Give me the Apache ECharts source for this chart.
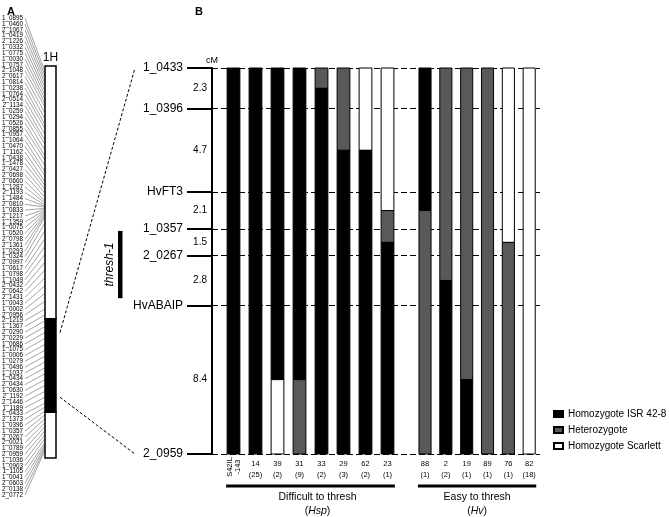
<!DOCTYPE html>
<html>
<head>
<meta charset="utf-8">
<script src="https://cdn.jsdelivr.net/npm/echarts@6/dist/echarts.min.js"></script>
<style>
html, body { margin: 0; padding: 0; background: #fff; }
#chart { width: 669px; height: 517px; }
</style>
</head>
<body>
<div id="chart"></div>
<script>
const FONT = '"Liberation Sans", Arial, Helvetica, sans-serif';

// panel A: markers of the 1H map, top to bottom, and where each lands on the chromosome (0 = top, 100 = bottom)
const mapMarkers = [
  '1_0895', '1_0460', '2_1067', '1_0419', '2_1226', '1_0332', '1_0775', '1_0030', '1_0757', '2_1048',
  '2_0617', '1_0814', '1_0238', '1_0764', '2_0514', '2_1134', '1_0259', '1_0294', '1_0526', '2_0855',
  '1_0957', '1_1064', '1_0470', '1_1162', '1_0438', '1_1478', '2_0427', '2_0698', '2_0660', '1_1287',
  '2_1193', '1_1484', '2_0810', '1_0833', '2_1217', '1_1359', '1_0075', '1_0520', '2_0798', '2_1361',
  '1_0293', '1_0324', '2_0997', '1_0617', '1_0798', '1_1049', '2_0432', '2_0642', '2_1431', '1_0043',
  '1_0002', '2_0956', '2_1219', '1_1367', '2_0290', '2_0229', '1_0686', '1_1075', '1_0006', '1_0279',
  '1_0496', '1_1037', '1_0434', '2_0434', '1_0630', '2_1192', '2_1446', '1_1189', '1_0433', '2_1373',
  '1_0396', '1_0357', '2_0267', '2_0021', '1_0789', '2_0959', '1_1036', '1_0903', '1_1105', '1_0041',
  '2_0603', '2_0138', '2_0772'
];
const mapPositions = [
  1.5, 2.5, 3.5, 4.5, 5.5, 6.5, 7.5, 8.5, 9.5, 10.5,
  12, 13.5, 15, 16, 17.5, 19, 20, 21.5, 23, 24, 25.5, 27, 28, 29.5, 30.5, 31.5, 32.5, 33.5,
  34.5, 35, 35.5, 35.8, 36, 36.3, 36.5, 36.8, 37, 37.3, 37.6, 38, 38.5,
  40, 42, 44, 46, 48, 50, 52, 54, 56, 58, 60, 62, 63.5, 65, 66.5, 68,
  69.5, 71, 72.5, 74, 75.5, 77, 78.5, 80, 81.5, 83, 84.5, 86, 87, 88,
  89, 90, 91, 92, 93, 94, 95, 96, 96.5, 97, 97.5, 98
];
// chromosome 1H segments: [from, to, filled]
const chromSegments = [[0, 64.5, 0], [64.5, 88.3, 1], [88.3, 100, 0]];
const zoomWindow = [68, 84.5];

// panel B: fine map
const markerNames = ['1_0433', '1_0396', 'HvFT3', '1_0357', '2_0267', 'HvABAIP', '2_0959'];
const intervalsCM = [2.3, 4.7, 2.1, 1.5, 2.8, 8.4];
const thresh1 = [9.2, 13.0];

const lineNames = ['S42IL-143', '14', '39', '31', '33', '29', '62', '23', '88', '2', '19', '89', '76', '82'];
const lineCounts = [null, 25, 2, 9, 2, 3, 2, 1, 1, 2, 1, 1, 1, 18];
const groupNames = ['Difficult to thresh', 'Easy to thresh'];
const groupTags = ['Hsp', 'Hv'];
const groupSizes = [8, 6];

const states = ['Homozygote ISR 42-8', 'Heterozygote', 'Homozygote Scarlett'];
// genotype of each line along the map: [state, from cM, to cM]
const genotypes = [
  [[0, 0, 21.8]],
  [[0, 0, 21.8]],
  [[0, 0, 17.6], [2, 17.6, 21.8]],
  [[0, 0, 17.6], [1, 17.6, 21.8]],
  [[1, 0, 1.15], [0, 1.15, 21.8]],
  [[1, 0, 4.65], [0, 4.65, 21.8]],
  [[2, 0, 4.65], [0, 4.65, 21.8]],
  [[2, 0, 8.05], [1, 8.05, 9.85], [0, 9.85, 21.8]],
  [[0, 0, 8.05], [1, 8.05, 21.8]],
  [[1, 0, 12.0], [0, 12.0, 21.8]],
  [[1, 0, 17.6], [0, 17.6, 21.8]],
  [[1, 0, 21.8]],
  [[2, 0, 9.85], [1, 9.85, 21.8]],
  [[2, 0, 21.8]]
];

const stateColors = ['#000000', '#595959', '#ffffff'];

const markerPos = [0];
intervalsCM.forEach((d) => {
  markerPos.push(Math.round((markerPos[markerPos.length - 1] + d) * 100) / 100);
});
const total = markerPos[markerPos.length - 1];
const midPos = intervalsCM.map((d, i) => (markerPos[i] + markerPos[i + 1]) / 2);

function lookup(list, values, v) {
  const i = values.findIndex((p) => Math.abs(p - v) < 1e-6);
  return i < 0 ? '' : list[i];
}

function genoRender(offset, size) {
  return function (params, api) {
    const ci = api.value(0);
    const li = offset + ci;
    const cx = api.coord([ci, 0])[0];
    const bw = api.size([1, 0])[0] * 0.58;
    const children = genotypes[li].map(([s, a, b]) => {
      const y0 = api.coord([ci, a])[1];
      const y1 = api.coord([ci, b])[1];
      return {
        type: 'rect',
        shape: { x: cx - bw / 2, y: y0, width: bw, height: y1 - y0 },
        style: { fill: stateColors[s], stroke: '#000', lineWidth: 1 },
      };
    });
    const yb = api.coord([ci, total])[1];
    if (lineCounts[li] == null) {
      children.push({
        type: 'text',
        x: cx, y: yb + 13, rotation: Math.PI / 2,
        style: {
          text: lineNames[li].replace('-', '\n-'), fill: '#000', fontSize: 7.5, fontFamily: FONT,
          align: 'center', verticalAlign: 'middle', lineHeight: 8,
        },
      });
    } else {
      children.push({
        type: 'text', x: cx, y: yb + 10,
        style: { text: lineNames[li], fill: '#000', fontSize: 7.5, fontFamily: FONT, align: 'center', verticalAlign: 'middle' },
      });
      children.push({
        type: 'text', x: cx, y: yb + 21,
        style: { text: '(' + lineCounts[li] + ')', fill: '#000', fontSize: 7.5, fontFamily: FONT, align: 'center', verticalAlign: 'middle' },
      });
    }
    if (ci === 0) {
      const lastX = api.coord([size - 1, 0])[0];
      children.push({
        type: 'line',
        shape: { x1: cx - bw / 2 - 1, y1: yb + 32, x2: lastX + bw / 2 + 1, y2: yb + 32 },
        style: { stroke: '#000', lineWidth: 3 },
      });
    }
    return { type: 'group', children };
  };
}

const chart = echarts.init(document.getElementById('chart'));

const groupAxisName = (g) => ({
  name: groupNames[g] + '\n({i|' + groupTags[g] + '})',
  nameLocation: 'middle',
  nameGap: 36,
  nameTextStyle: {
    fontSize: 10.5, fontFamily: FONT, color: '#000', lineHeight: 14,
    padding: g === 0 ? [0, 0, 0, 14] : 0,
    rich: { i: { fontSize: 10.5, fontFamily: FONT, fontStyle: 'italic', color: '#000' } },
  },
});

let offset = 0;
const groupSeries = groupSizes.map((size, g) => {
  const s = {
    type: 'custom',
    xAxisIndex: 3 + g,
    yAxisIndex: 4 + g,
    clip: false,
    z: 5,
    silent: true,
    renderItem: genoRender(offset, size),
    data: Array.from({ length: size }, (_, i) => [i, 0]),
  };
  offset += size;
  return s;
});

const option = {
  animation: false,
  backgroundColor: '#fff',
  textStyle: { fontFamily: FONT },
  title: [
    { text: 'A', left: 2, top: 1, textStyle: { fontSize: 11, fontWeight: 'bold', fontFamily: FONT, color: '#000' } },
    { text: 'B', left: 190, top: 1, textStyle: { fontSize: 11, fontWeight: 'bold', fontFamily: FONT, color: '#000' } },
  ],
  legend: {
    data: states,
    orient: 'vertical',
    left: 548,
    top: 403,
    icon: 'rect',
    itemWidth: 9,
    itemHeight: 6,
    itemGap: 4,
    selectedMode: false,
    textStyle: { fontSize: 10, fontFamily: FONT, color: '#000', lineHeight: 12 },
  },
  grid: [
    { left: 24, width: 1, top: 15.4, height: 482.5, outerBoundsMode: 'none' },
    { left: 45, width: 11, top: 66, height: 392, outerBoundsMode: 'none' },
    { left: 212, width: 328, top: 68, height: 386, outerBoundsMode: 'none' },
    { left: 222.5, width: 176, top: 68, height: 386, outerBoundsMode: 'none' },
    { left: 414.6, width: 125, top: 68, height: 386, outerBoundsMode: 'none' },
  ],
  xAxis: [
    { gridIndex: 0, type: 'value', min: 0, max: 1, show: false },
    {
      gridIndex: 1, type: 'value', min: 0, max: 1, position: 'top',
      axisLine: { show: false }, axisTick: { show: false }, axisLabel: { show: false }, splitLine: { show: false },
      name: '1H', nameLocation: 'middle', nameGap: 2,
      nameTextStyle: { fontSize: 12, fontFamily: FONT, color: '#000', verticalAlign: 'bottom' },
    },
    { gridIndex: 2, type: 'value', min: 0, max: 1, show: false },
    Object.assign({
      gridIndex: 3, type: 'category', data: lineNames.slice(0, groupSizes[0]),
      axisLine: { show: false }, axisTick: { show: false }, axisLabel: { show: false },
    }, groupAxisName(0)),
    Object.assign({
      gridIndex: 4, type: 'category', data: lineNames.slice(groupSizes[0]),
      axisLine: { show: false }, axisTick: { show: false }, axisLabel: { show: false },
    }, groupAxisName(1)),
  ],
  yAxis: [
    {
      gridIndex: 0, type: 'category', data: mapMarkers, inverse: true,
      axisLine: { show: false }, axisTick: { show: false },
      axisLabel: { interval: 0, fontSize: 6.3, fontFamily: FONT, color: '#000', margin: 1, align: 'right' },
    },
    { gridIndex: 1, type: 'value', min: 0, max: 100, inverse: true, show: false },
    {
      gridIndex: 2, type: 'value', min: 0, max: total, inverse: true, position: 'left',
      axisLine: { show: true, lineStyle: { color: '#000', width: 2 } },
      axisTick: { show: true, customValues: markerPos, length: 25, lineStyle: { color: '#000', width: 2 } },
      axisLabel: {
        customValues: markerPos, margin: 29, fontSize: 12, fontFamily: FONT, color: '#000',
        formatter: (v) => lookup(markerNames, markerPos, v),
      },
      splitLine: { show: false },
    },
    {
      gridIndex: 2, type: 'value', min: 0, max: total, inverse: true, position: 'left', offset: 0,
      axisLine: { show: false }, axisTick: { show: false }, splitLine: { show: false },
      axisLabel: {
        customValues: midPos, margin: 5, fontSize: 10, fontFamily: FONT, color: '#000',
        formatter: (v) => lookup(intervalsCM.map((d) => d.toFixed(1)), midPos, v),
      },
      name: 'cM', nameLocation: 'start', nameGap: 3,
      nameTextStyle: { fontSize: 9, fontFamily: FONT, color: '#000' },
    },
    { gridIndex: 3, type: 'value', min: 0, max: total, inverse: true, show: false },
    { gridIndex: 4, type: 'value', min: 0, max: total, inverse: true, show: false },
  ],
  series: [
    {
      type: 'line', xAxisIndex: 2, yAxisIndex: 2, z: 1, silent: true,
      data: [[0, 0]], showSymbol: false, lineStyle: { opacity: 0 },
      markLine: {
        silent: true, symbol: ['none', 'none'], label: { show: false }, animation: false,
        lineStyle: { color: '#000', type: [6, 3], width: 1.2 },
        data: markerPos.map((v) => ({ yAxis: v })),
      },
    },
    ...states.map((name, s) => ({
      type: 'bar', name, xAxisIndex: 2, yAxisIndex: 2, data: [],
      itemStyle: { color: stateColors[s], borderColor: '#000', borderWidth: 1 },
    })),
    {
      type: 'custom', xAxisIndex: 1, yAxisIndex: 1, clip: false, silent: true, z: 3,
      data: chromSegments,
      renderItem: (params, api) => {
        const cs = params.coordSys;
        const y0 = api.coord([0, api.value(0)])[1];
        const y1 = api.coord([0, api.value(1)])[1];
        return {
          type: 'rect',
          shape: { x: cs.x, y: y0, width: cs.width, height: y1 - y0 },
          style: { fill: api.value(2) ? '#000' : '#fff', stroke: '#000', lineWidth: 1.5 },
        };
      },
    },
    {
      type: 'custom', xAxisIndex: 2, yAxisIndex: 2, clip: false, silent: true, z: 3,
      data: [thresh1],
      renderItem: (params, api) => {
        const cs = params.coordSys;
        const y0 = api.coord([0, api.value(0)])[1];
        const y1 = api.coord([0, api.value(1)])[1];
        return {
          type: 'group',
          children: [
            { type: 'rect', shape: { x: cs.x - 94, y: y0, width: 4.5, height: y1 - y0 }, style: { fill: '#000' } },
            {
              type: 'text', x: cs.x - 102, y: (y0 + y1) / 2, rotation: Math.PI / 2,
              style: {
                text: 'thresh-1', fill: '#000', fontSize: 12, fontStyle: 'italic', fontFamily: FONT,
                align: 'center', verticalAlign: 'middle',
              },
            },
          ],
        };
      },
    },
    ...groupSeries,
  ],
};

chart.setOption(option);

// connector lines that join grids
const graphics = [];
mapMarkers.forEach((m, i) => {
  const p0 = chart.convertToPixel({ gridIndex: 0 }, [0, i]);
  const p1 = chart.convertToPixel({ gridIndex: 1 }, [0, mapPositions[i]]);
  graphics.push({
    type: 'line', silent: true, z: 1,
    shape: { x1: p0[0] + 1, y1: p0[1], x2: p1[0], y2: p1[1] },
    style: { stroke: '#666', lineWidth: 0.6 },
  });
});
[0, markerPos.length - 1].forEach((mi, k) => {
  const a = chart.convertToPixel({ gridIndex: 1 }, [1, zoomWindow[k]]);
  const b = chart.convertToPixel({ gridIndex: 2 }, [0, markerPos[mi]]);
  graphics.push({
    type: 'line', silent: true,
    shape: { x1: a[0] + 4, y1: a[1], x2: b[0] - 77, y2: b[1] },
    style: { stroke: '#000', lineWidth: 1, lineDash: [3, 2] },
  });
});
chart.setOption({ graphic: graphics });
</script>
</body>
</html>
